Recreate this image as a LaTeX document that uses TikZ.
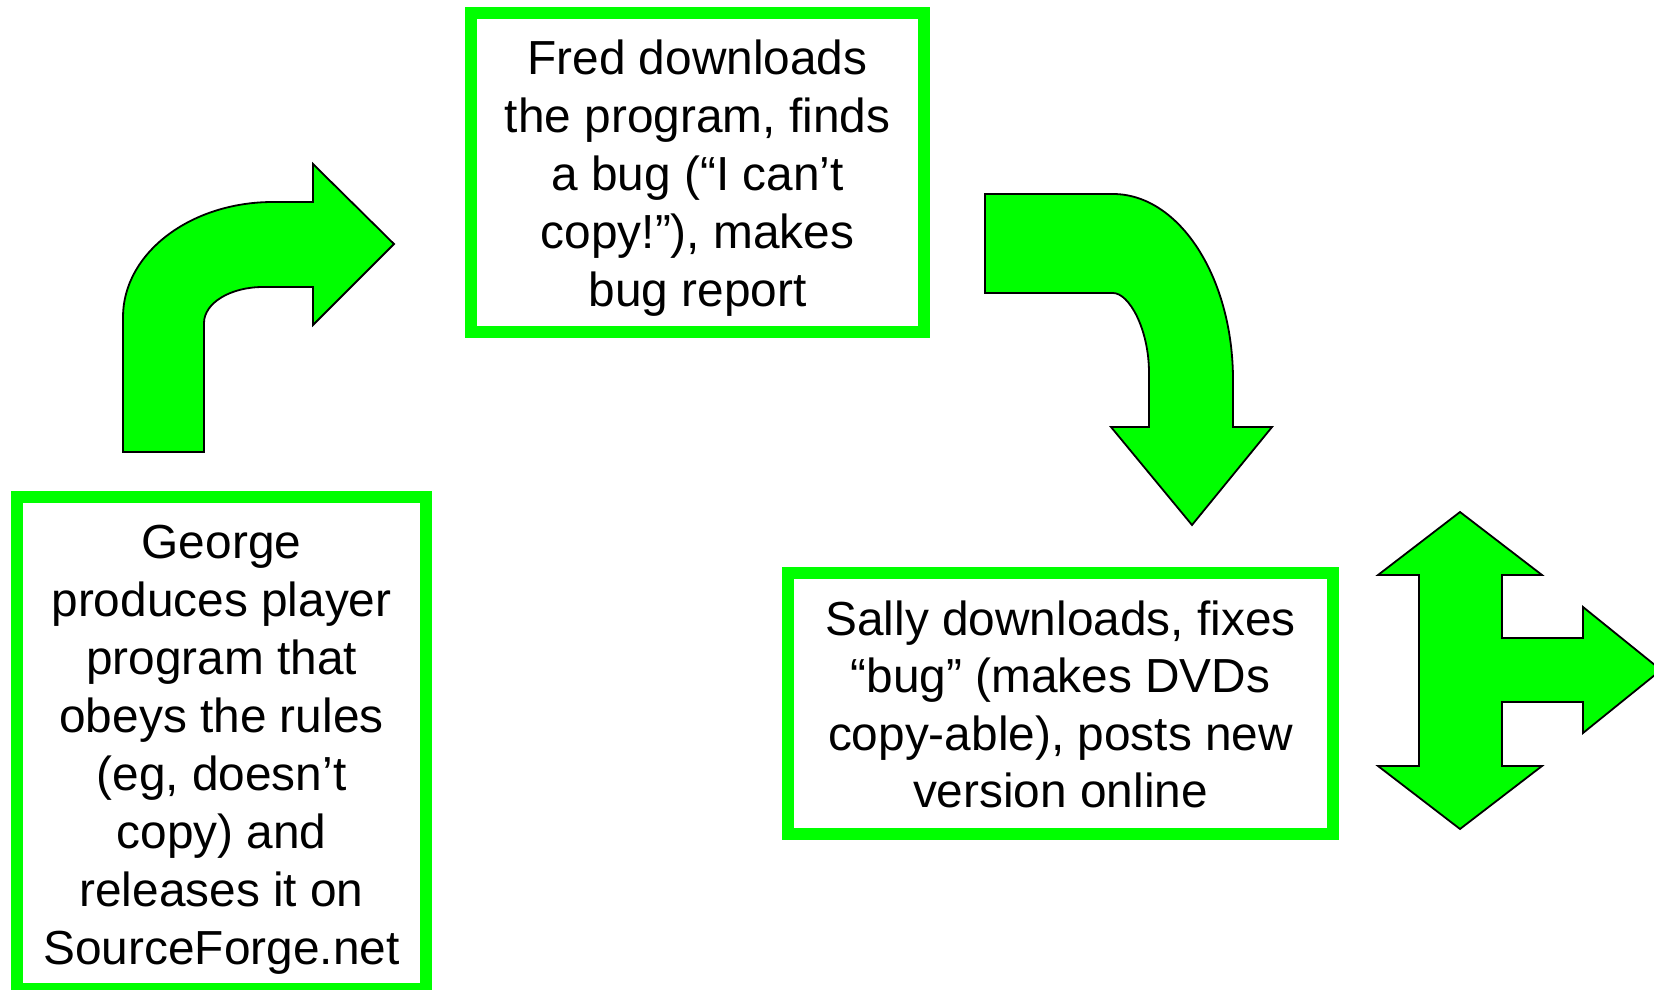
\documentclass[tikz,border=0pt]{standalone}
\usepackage{fontspec}
\setmainfont{Liberation Sans}
\definecolor{brightgreen}{RGB}{0,255,0}
\begin{document}
\begin{tikzpicture}[x=0.5pt,y=-0.5pt,
  box/.style={draw=brightgreen, line width=6pt, rectangle, inner sep=0pt},
  boxtext/.style={inner sep=0pt, align=center, font=\fontsize{23.9pt}{29pt}\selectfont},
  blockarrow/.style={fill=brightgreen, draw=black, line width=0.9pt, line join=miter}]
\useasboundingbox (0,0) rectangle (1654,990);

% boxes
\node[box, minimum width=204.5pt, minimum height=246pt] (george) at (221.5,743) {};
\node[boxtext] (georgetext) at (221.5,749.3)
  {George\\produces player\\program that\\obeys the rules\\(eg, doesn’t\\copy) and\\releases it on\\SourceForge.net};
\node[box, minimum width=226.5pt, minimum height=159.5pt] (fred) at (697.5,172.5) {};
\node[boxtext] (fredtext) at (697.5,178.3)
  {Fred downloads\\the program, finds\\a bug (“I can’t\\copy!”), makes\\bug report};
\node[box, minimum width=272.5pt, minimum height=130.5pt] (sally) at (1060.5,703.5) {};
\node[boxtext, font=\fontsize{23.9pt}{28.7pt}\selectfont] (sallytext) at (1060.5,704.5)
  {Sally downloads, fixes\\“bug” (makes DVDs\\copy-able), posts new\\version online};

% bent arrow up-right
\draw[blockarrow] (123,452) -- (123,317)
  .. controls (123,253.5) and (190,202) .. (273,202)
  -- (313,202) -- (313,164) -- (394,244) -- (313,325) -- (313,287) -- (263,287)
  .. controls (230.4,287) and (204,303) .. (204,323)
  -- (204,452) -- cycle;

% bent arrow right-down
\draw[blockarrow] (985,194) -- (1113,194)
  .. controls (1179,194) and (1233,277) .. (1233,380)
  -- (1233,427) -- (1272,427) -- (1192,525) -- (1111,427) -- (1149,427) -- (1149,373)
  .. controls (1149,329) and (1129,293) .. (1113,293)
  -- (985,293) -- cycle;

% three-way arrow
\draw[blockarrow] (1460,512) -- (1542,575) -- (1502,575) -- (1502,638) -- (1583,638)
  -- (1583,607) -- (1661,670) -- (1583,733) -- (1583,702) -- (1502,702) -- (1502,766)
  -- (1542,766) -- (1460,829) -- (1378,766) -- (1419,766) -- (1419,575) -- (1378,575) -- cycle;
\end{tikzpicture}
\end{document}
